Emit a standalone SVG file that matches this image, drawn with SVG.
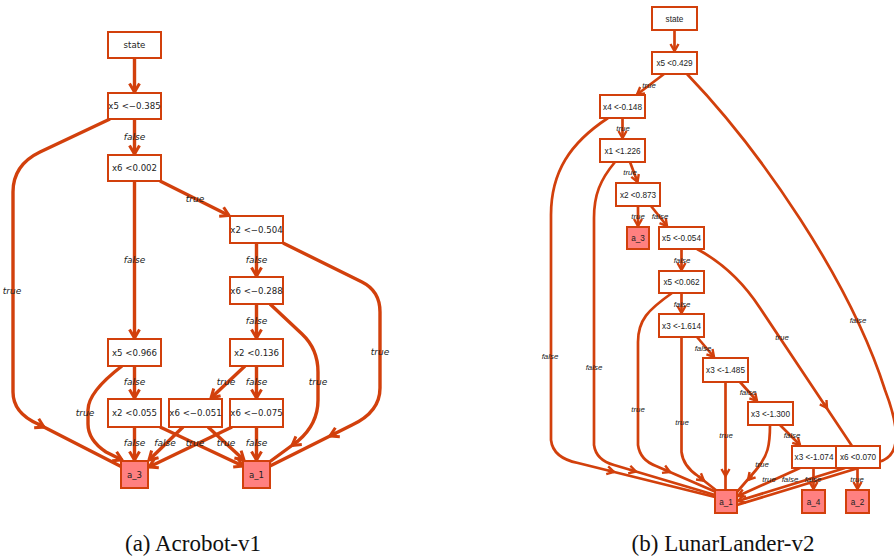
<svg xmlns="http://www.w3.org/2000/svg" width="894" height="556" viewBox="0 0 894 556">
<style>
.el{fill:none;stroke:#d2400c;stroke-width:3.4;stroke-linejoin:round}
.er{fill:none;stroke:#d2400c;stroke-width:2.7;stroke-linejoin:round}
.b{fill:#fff;stroke:#d2400c;stroke-width:2}
.lf{fill:#ff8080;stroke:#d2400c;stroke-width:2}
.tl{font-family:"DejaVu Sans",sans-serif;font-size:8.6px;fill:#222;text-anchor:middle}
.ll{font-family:"DejaVu Sans",sans-serif;font-size:9px;font-style:italic;fill:#222;text-anchor:middle}
.tr{font-family:"Liberation Sans",Arial,sans-serif;font-size:8.2px;fill:#222;text-anchor:middle}
.lr{font-family:"Liberation Sans",Arial,sans-serif;font-size:7.9px;font-style:italic;fill:#222;text-anchor:middle}
.cap{font-family:"Liberation Serif","Times New Roman",serif;font-size:23px;fill:#111;text-anchor:middle}
</style>
<defs>
<marker id="al" markerUnits="userSpaceOnUse" markerWidth="24" markerHeight="24" viewBox="-12 -12 24 24" refX="0" refY="0" orient="auto" overflow="visible"><path d="M-8.5,-5 L0,0 L-8.5,5" fill="none" stroke="#d2400c" stroke-width="3"/></marker>
<marker id="ar" markerUnits="userSpaceOnUse" markerWidth="24" markerHeight="24" viewBox="-12 -12 24 24" refX="0" refY="0" orient="auto" overflow="visible"><path d="M-7,-4 L0,0 L-7,4" fill="none" stroke="#d2400c" stroke-width="2.4"/></marker>
</defs>
<rect width="894" height="556" fill="#fff"/>

<g id="connectors">
<!-- left diagram -->
<path class="el" d="M134.5,58 L134.5,92" marker-end="url(#al)"/>
<path class="el" d="M134.5,119 L134.5,154" marker-end="url(#al)"/>
<path class="el" d="M110,119 L40,152 Q13,165 13,192 L13,392 Q13,413 38,424 L122,467"/>
<path class="el" d="M38,424 L44,427.1" marker-end="url(#al)"/>
<path class="el" d="M134.5,181 L134.5,338" marker-end="url(#al)"/>
<path class="el" d="M160,181 L229,215.5" marker-end="url(#al)"/>
<path class="el" d="M256.5,243 L256.5,276" marker-end="url(#al)"/>
<path class="el" d="M283,243 L362,282 Q380,291 380,312 L380,388 Q380,412 352,425 L270,466"/>
<path class="el" d="M336,433 L330,436" marker-end="url(#al)"/>
<path class="el" d="M256.5,304 L256.5,338" marker-end="url(#al)"/>
<path class="el" d="M270,304 L302,334 Q318,349 318,372 L318,400 Q318,424 298,441 L268,463"/>
<path class="el" d="M298,441 L292,445.4" marker-end="url(#al)"/>
<path class="el" d="M134.5,366 L134.5,398" marker-end="url(#al)"/>
<path class="el" d="M122,366 Q88,392 88,410 L88,424 Q88,440 106,452 L122,460" marker-end="url(#al)"/>
<path class="el" d="M245,366 L211,398" marker-end="url(#al)"/>
<path class="el" d="M256.5,366 L256.5,398" marker-end="url(#al)"/>
<path class="el" d="M134.5,427 L134.5,460" marker-end="url(#al)"/>
<path class="el" d="M160,427 L243,466" marker-end="url(#al)"/>
<path class="el" d="M183,427 L149,460" marker-end="url(#al)"/>
<path class="el" d="M208,427 L244,460" marker-end="url(#al)"/>
<path class="el" d="M232,427 L149,467" marker-end="url(#al)"/>
<path class="el" d="M256.5,427 L256.5,460" marker-end="url(#al)"/>

<!-- right diagram -->
<path class="er" d="M674.5,30 L674.5,51" marker-end="url(#ar)"/>
<path class="er" d="M664,74 L637,94.5" marker-end="url(#ar)"/>
<path class="er" d="M687,74 C760,150 850,280 885,390 Q910,455 878,462 L737,505"/>
<path class="er" d="M622.5,118 L622.5,138" marker-end="url(#ar)"/>
<path class="er" d="M608,118 C570,143 551,172 551,215 L551,440 Q553,458 578,463 L715,497"/>
<path class="er" d="M608,470.5 L614,472" marker-end="url(#ar)"/>
<path class="er" d="M630,162 L637.5,182" marker-end="url(#ar)"/>
<path class="er" d="M615,162 C600,180 594,195 594,218 L594,445 Q596,460 614,465 L715,495"/>
<path class="er" d="M630,469.8 L636,471.5" marker-end="url(#ar)"/>
<path class="er" d="M638,206 L638,226" marker-end="url(#ar)"/>
<path class="er" d="M651,206 L667,226" marker-end="url(#ar)"/>
<path class="er" d="M681.5,249 L681.5,270" marker-end="url(#ar)"/>
<path class="er" d="M697,249 C725,264 745,285 760,308 L852,446"/>
<path class="er" d="M823.7,403 L827,408" marker-end="url(#ar)"/>
<path class="er" d="M681.5,293 L681.5,313" marker-end="url(#ar)"/>
<path class="er" d="M672,293 C648,310 638,320 638,342 L638,445 Q640,460 656,466 L716,492"/>
<path class="er" d="M664,469.4 L670,472" marker-end="url(#ar)"/>
<path class="er" d="M697,337 L714,357" marker-end="url(#ar)"/>
<path class="er" d="M681.5,337 L681.5,452 Q683,466 698,476 L717,491"/>
<path class="er" d="M698,476 L704,480.7" marker-end="url(#ar)"/>
<path class="er" d="M740,382 L757,401" marker-end="url(#ar)"/>
<path class="er" d="M725.5,382 L725.5,490"/>
<path class="er" d="M725.5,470 L725.5,476" marker-end="url(#ar)"/>
<path class="er" d="M780,425 L800,445" marker-end="url(#ar)"/>
<path class="er" d="M770,425 C770,445 768,456 756,470 L737,492"/>
<path class="er" d="M752,475.4 L748,480" marker-end="url(#ar)"/>
<path class="er" d="M800,468 L738,496" marker-end="url(#ar)"/>
<path class="er" d="M813.5,468 L813.5,489" marker-end="url(#ar)"/>
<path class="er" d="M845,468 L738,501" marker-end="url(#ar)"/>
<path class="er" d="M857.5,468 L857.5,489" marker-end="url(#ar)"/>

<!-- left labels -->
<text class="ll" x="134.5" y="140">false</text>
<text class="ll" x="12" y="294">true</text>
<text class="ll" x="134.5" y="263">false</text>
<text class="ll" x="195" y="202">true</text>
<text class="ll" x="256.5" y="263">false</text>
<text class="ll" x="380" y="355">true</text>
<text class="ll" x="256.5" y="324">false</text>
<text class="ll" x="318" y="385">true</text>
<text class="ll" x="134.5" y="385">false</text>
<text class="ll" x="85" y="416">true</text>
<text class="ll" x="226" y="385">true</text>
<text class="ll" x="256.5" y="385">false</text>
<text class="ll" x="134.5" y="446">false</text>
<text class="ll" x="165" y="446">false</text>
<text class="ll" x="195" y="446">true</text>
<text class="ll" x="226" y="446">true</text>
<text class="ll" x="256.5" y="446">false</text>

<!-- right labels -->
<text class="lr" x="649" y="88">true</text>
<text class="lr" x="623" y="131">true</text>
<text class="lr" x="630" y="175">true</text>
<text class="lr" x="638" y="219">true</text>
<text class="lr" x="660" y="219">false</text>
<text class="lr" x="682" y="263">false</text>
<text class="lr" x="682" y="307">false</text>
<text class="lr" x="703" y="351">false</text>
<text class="lr" x="748" y="395">false</text>
<text class="lr" x="792" y="438">false</text>
<text class="lr" x="550" y="359">false</text>
<text class="lr" x="594" y="370">false</text>
<text class="lr" x="638" y="412">true</text>
<text class="lr" x="682" y="425">true</text>
<text class="lr" x="726" y="438">true</text>
<text class="lr" x="762" y="467">true</text>
<text class="lr" x="769" y="482">true</text>
<text class="lr" x="790" y="482">false</text>
<text class="lr" x="813" y="482">false</text>
<text class="lr" x="857" y="482">true</text>
<text class="lr" x="782" y="340">true</text>
<text class="lr" x="858" y="323">false</text>
</g>

<!-- left nodes -->
<g id="L_state"><rect class="b" x="108" y="32" width="53" height="26"/><text class="tl" x="134.5" y="48">state</text></g>
<g id="L_n1"><rect class="b" x="108" y="93" width="53" height="26"/><text class="tl" x="134.5" y="109">x5 &lt;−0.385</text></g>
<g id="L_n2"><rect class="b" x="108" y="155" width="53" height="26"/><text class="tl" x="134.5" y="171">x6 &lt;0.002</text></g>
<g id="L_n3"><rect class="b" x="230" y="216" width="53" height="27"/><text class="tl" x="256.5" y="232.5">x2 &lt;−0.504</text></g>
<g id="L_n4"><rect class="b" x="230" y="277" width="53" height="27"/><text class="tl" x="256.5" y="293.5">x6 &lt;−0.288</text></g>
<g id="L_n5"><rect class="b" x="108" y="339" width="53" height="27"/><text class="tl" x="134.5" y="355.5">x5 &lt;0.966</text></g>
<g id="L_n6"><rect class="b" x="230" y="339" width="53" height="27"/><text class="tl" x="256.5" y="355.5">x2 &lt;0.136</text></g>
<g id="L_n7"><rect class="b" x="108" y="399" width="53" height="28"/><text class="tl" x="134.5" y="416">x2 &lt;0.055</text></g>
<g id="L_n8"><rect class="b" x="169" y="399" width="53" height="28"/><text class="tl" x="195.5" y="416">x6 &lt;−0.051</text></g>
<g id="L_n9"><rect class="b" x="230" y="399" width="53" height="28"/><text class="tl" x="256.5" y="416">x6 &lt;−0.075</text></g>
<g id="L_a3"><rect class="lf" x="121" y="461" width="27" height="27"/><text class="tl" x="134.5" y="477.5">a_3</text></g>
<g id="L_a1"><rect class="lf" x="243" y="461" width="27" height="27"/><text class="tl" x="256.5" y="477.5">a_1</text></g>

<!-- right nodes -->
<g id="R_state"><rect class="b" x="652" y="7" width="45" height="23"/><text class="tr" x="674.5" y="21.5">state</text></g>
<g id="R_n1"><rect class="b" x="652" y="52" width="45" height="22"/><text class="tr" x="674.5" y="66">x5 &lt;0.429</text></g>
<g id="R_n2"><rect class="b" x="600" y="95" width="45" height="23"/><text class="tr" x="622.5" y="109.5">x4 &lt;-0.148</text></g>
<g id="R_n3"><rect class="b" x="600" y="139" width="45" height="23"/><text class="tr" x="622.5" y="153.5">x1 &lt;1.226</text></g>
<g id="R_n4"><rect class="b" x="616" y="183" width="44" height="23"/><text class="tr" x="638" y="197.5">x2 &lt;0.873</text></g>
<g id="R_a3"><rect class="lf" x="627" y="227" width="22" height="22"/><text class="tr" x="638" y="241">a_3</text></g>
<g id="R_n5"><rect class="b" x="659" y="227" width="45" height="22"/><text class="tr" x="681.5" y="241">x5 &lt;-0.054</text></g>
<g id="R_n6"><rect class="b" x="659" y="271" width="45" height="22"/><text class="tr" x="681.5" y="285">x5 &lt;0.062</text></g>
<g id="R_n7"><rect class="b" x="659" y="314" width="45" height="23"/><text class="tr" x="681.5" y="328.5">x3 &lt;-1.614</text></g>
<g id="R_n8"><rect class="b" x="703" y="358" width="45" height="24"/><text class="tr" x="725.5" y="373">x3 &lt;-1.485</text></g>
<g id="R_n9"><rect class="b" x="748" y="402" width="45" height="23"/><text class="tr" x="770.5" y="416.5">x3 &lt;-1.300</text></g>
<g id="R_n10"><rect class="b" x="792" y="446" width="44" height="22"/><text class="tr" x="814" y="460">x3 &lt;-1.074</text></g>
<g id="R_n11"><rect class="b" x="836" y="446" width="44" height="22"/><text class="tr" x="858" y="460">x6 &lt;0.070</text></g>
<g id="R_a1"><rect class="lf" x="715" y="490" width="22" height="23"/><text class="tr" x="726" y="504.5">a_1</text></g>
<g id="R_a4"><rect class="lf" x="802" y="490" width="23" height="23"/><text class="tr" x="813.5" y="504.5">a_4</text></g>
<g id="R_a2"><rect class="lf" x="846" y="490" width="23" height="23"/><text class="tr" x="857.5" y="504.5">a_2</text></g>

<text class="cap" x="193" y="551">(a) Acrobot-v1</text>
<text class="cap" x="723" y="551">(b) LunarLander-v2</text>
</svg>
